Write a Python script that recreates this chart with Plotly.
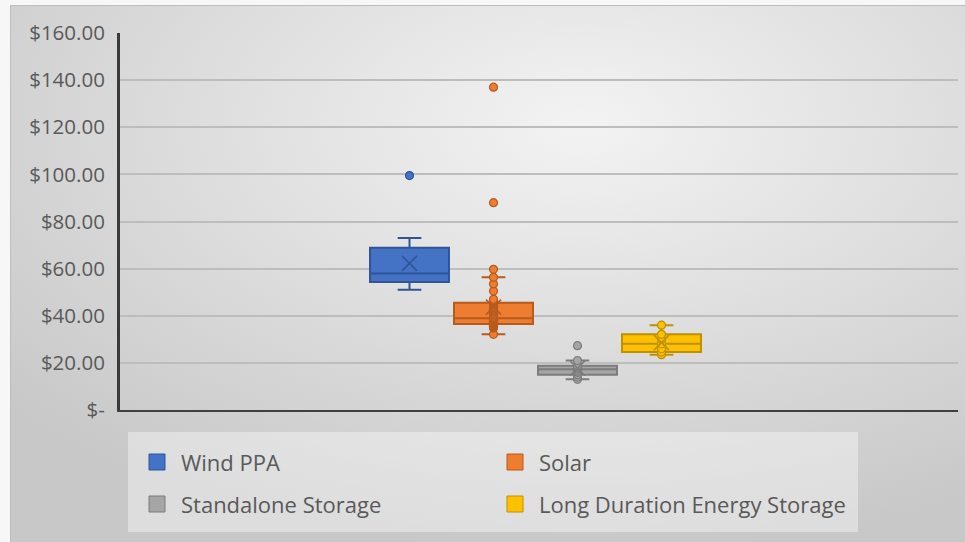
import base64
import numpy as np
import plotly.graph_objects as go

# ---- data ($ per MWh) ----
series_names = ["Wind PPA", "Solar", "Standalone Storage", "Long Duration Energy Storage"]
wind_ppa = [51.0, 51.5, 54.3, 54.5, 55.5, 57.9, 58.2, 60.0, 68.9, 73.0, 99.5]
solar = [32.1,
         34.8, 35.0, 35.2, 35.4, 35.5, 35.7, 35.8, 36.0, 36.1, 36.3, 36.4,
         36.5,
         36.7, 36.9, 37.1, 37.3, 37.5, 37.7, 37.9, 38.1, 38.3, 38.5, 38.7, 38.8,
         38.9,
         39.3, 39.8, 40.4, 41.0, 41.6, 42.0, 42.4, 42.8, 43.3, 43.9, 44.6, 45.2,
         45.5,
         45.6, 45.8, 46.0, 46.3, 46.6, 47.0,
         50.5, 53.5, 56.3, 59.7, 88.0, 137.0]
standalone_storage = [13.0, 14.0, 15.0, 16.0, 16.5, 17.3, 17.8, 18.3, 18.8, 21.0, 27.3]
long_duration_storage = [23.5, 24.6, 26.0, 28.1, 30.0, 32.1, 36.0]
tick_values = [0, 20, 40, 60, 80, 100, 120, 140, 160]
tick_labels = ["$-", "$20.00", "$40.00", "$60.00", "$80.00",
               "$100.00", "$120.00", "$140.00", "$160.00"]

series_values = [wind_ppa, solar, standalone_storage, long_duration_storage]
point_modes = ["outliers", "all", "all", "all"]

# ---- styling ----
fill_colors = ["#4472C4", "#ED7D31", "#A5A5A5", "#FFC000"]
line_colors = ["#2F5597", "#B65A1E", "#7C7C7C", "#BF9000"]
text_color = "#595959"
font_family = "Open Sans, Lato, sans-serif"

W, H = 965, 542
M_L, M_R, M_T, M_B = 120, 7, 33, 132
PW = W - M_L - M_R
PH = H - M_T - M_B


def px(x):
    return (x - M_L) / PW


def py(y):
    return (H - M_B - y) / PH


# box slots: 84 px apart, group centred around pixel 535
slot_px = 84.0
units_span = PW / slot_px
left_units = (535.5 - M_L) / slot_px
x_range = [-left_units, units_span - left_units]
n_series = len(series_names)
positions = [i - (n_series - 1) / 2 for i in range(n_series)]

fig = go.Figure()

for i, name in enumerate(series_names):
    vals = series_values[i]
    fig.add_trace(go.Box(
        y=vals, x0=positions[i], width=0.94, name=name,
        boxpoints=point_modes[i], jitter=0, pointpos=0,
        quartilemethod="exclusive",
        fillcolor=fill_colors[i],
        line=dict(color=line_colors[i], width=2),
        whiskerwidth=0.3,
        marker=dict(color=fill_colors[i], size=8,
                    line=dict(color=line_colors[i], width=1.2)),
        showlegend=False,
    ))
    # mean marker
    fig.add_trace(go.Scatter(
        x=[positions[i]], y=[float(np.mean(vals))], mode="markers",
        marker=dict(symbol="x-thin-open", size=15, color=line_colors[i],
                    line=dict(color=line_colors[i], width=1.6)),
        showlegend=False, hoverinfo="skip",
    ))

# soft radial background behind the chart area
bg_w, bg_h = W - 10, H - 6
svg = (
    f'<svg xmlns="http://www.w3.org/2000/svg" width="{bg_w}" height="{bg_h}">'
    '<defs><radialGradient id="g" cx="0.6" cy="0.22" r="0.8">'
    '<stop offset="0" stop-color="#F3F3F3"/>'
    '<stop offset="1" stop-color="#C8C8C8"/>'
    '</radialGradient></defs>'
    f'<rect width="{bg_w}" height="{bg_h}" fill="url(#g)"/></svg>'
)
bg_src = "data:image/svg+xml;base64," + base64.b64encode(svg.encode()).decode()

shapes = [
    dict(type="rect", xref="paper", yref="paper",
         x0=px(10.5), y0=py(5.5), x1=px(W + 5), y1=py(H + 5),
         line=dict(color="#BDBDBD", width=1), fillcolor="rgba(0,0,0,0)", layer="below"),
    # legend panel
    dict(type="rect", xref="paper", yref="paper",
         x0=px(128), y0=py(532), x1=px(858), y1=py(432),
         line=dict(width=0), fillcolor="rgba(255,255,255,0.38)", layer="below"),
]
annotations = []
for i, name in enumerate(series_names):
    col, row = i % 2, i // 2
    sx = 149 + col * 358
    sy = 462 + row * 42
    shapes.append(dict(type="rect", xref="paper", yref="paper",
                       x0=px(sx), x1=px(sx + 16), y0=py(sy + 8), y1=py(sy - 8),
                       fillcolor=fill_colors[i],
                       line=dict(color=line_colors[i], width=1)))
    annotations.append(dict(xref="paper", yref="paper", x=px(sx + 30), y=py(sy),
                            xanchor="left", yanchor="middle", showarrow=False,
                            text=name, font=dict(size=22, color=text_color,
                                                 family=font_family)))

fig.update_layout(
    width=W, height=H,
    margin=dict(l=M_L, r=M_R, t=M_T, b=M_B, pad=0),
    paper_bgcolor="#F7F7F7",
    plot_bgcolor="rgba(0,0,0,0)",
    font=dict(family=font_family, color=text_color, size=21),
    images=[dict(source=bg_src, xref="paper", yref="paper",
                 x=px(10), y=py(6), sizex=bg_w / PW, sizey=bg_h / PH,
                 xanchor="left", yanchor="top", sizing="stretch", layer="below")],
    shapes=shapes,
    annotations=annotations,
    xaxis=dict(range=x_range, showgrid=False, zeroline=False,
               showticklabels=False, ticks="", showline=True,
               linecolor="#404040", linewidth=2, fixedrange=True),
    yaxis=dict(range=[0, 160], tickvals=tick_values, ticktext=tick_labels,
               showgrid=True, gridcolor="#BDBDBD", gridwidth=1.5,
               zeroline=False, showline=True, linecolor="#3A3A3A", linewidth=3,
               ticks="", ticklabelstandoff=8,
               tickfont=dict(size=20.5, color=text_color), fixedrange=True),
    showlegend=False,
)

fig.write_html("out.html")
